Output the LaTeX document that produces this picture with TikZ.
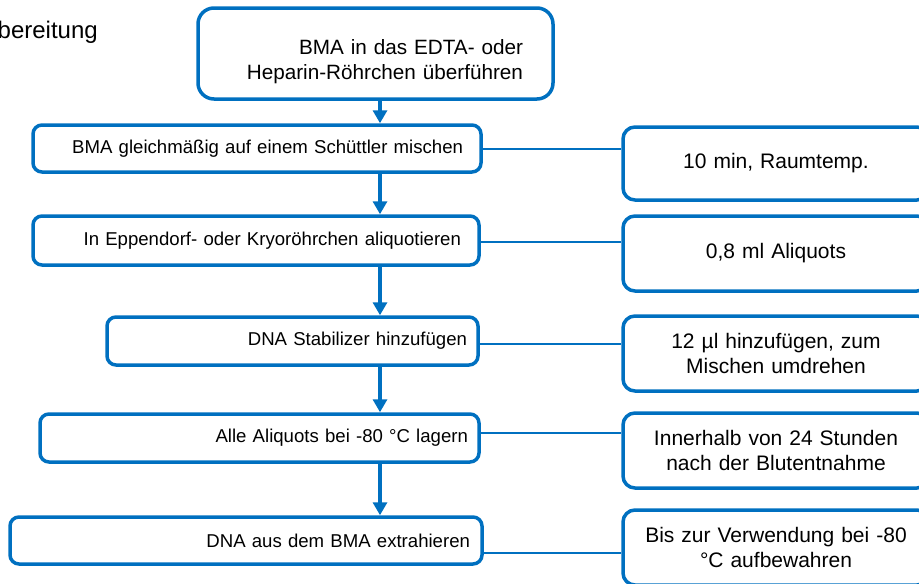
\documentclass[tikz,border=0pt]{standalone}
\usepackage{fontspec}
\setmainfont{Liberation Sans}
\usetikzlibrary{arrows.meta}
\definecolor{flowblue}{RGB}{0,112,192}
\begin{document}
\begin{tikzpicture}[x=1pt,y=-1pt,>={Triangle[width=14pt,length=13pt]},
    stepbox/.style={draw=flowblue,line width=3.5pt,rounded corners=9pt,align=right,inner ysep=0pt,font=\fontsize{18.6}{22}\selectfont},
    notebox/.style={draw=flowblue,line width=3.5pt,rounded corners=12pt,align=center,minimum width=306pt,minimum height=75pt,text width=280pt,font=\fontsize{21}{25}\selectfont},
    flow/.style={->,draw=flowblue,line width=4pt},
    link/.style={draw=flowblue,line width=2pt}]
\useasboundingbox (0,0) rectangle (919,584);
\clip (0,0) rectangle (919,584);
\node[anchor=base east,inner sep=0pt,font=\fontsize{24}{28}\selectfont] (title) at (98,38) {bereitung};
\coordinate (spine) at (380,0);
% Arbeitsschritte
\node[stepbox,rounded corners=16pt,text width=295pt,inner xsep=30pt,minimum height=91pt,font=\fontsize{20.7}{25}\selectfont] (transfer) at (375.5,53.5) {\rule{0pt}{32pt}BMA in das EDTA- oder\\Heparin-Röhrchen überführen};
\node[stepbox,text width=412pt,inner xsep=18pt,minimum height=47pt] (mix) at (257,148.5) {BMA gleichmäßig auf einem Schüttler mischen};
\node[stepbox,text width=410pt,inner xsep=18pt,minimum height=49pt] (aliquot) at (256,240.5) {In Eppendorf- oder Kryoröhrchen aliquotieren};
\node[stepbox,text width=349pt,inner xsep=11pt,minimum height=48pt] (stabil) at (292.5,341) {DNA Stabilizer hinzufügen};
\node[stepbox,text width=417pt,inner xsep=11pt,minimum height=48pt] (store) at (259.5,438) {Alle Aliquots bei -80 °C lagern};
\node[stepbox,text width=448pt,inner xsep=12pt,minimum height=47pt] (extract) at (246,540.5) {DNA aus dem BMA extrahieren};
% Hinweise
\node[notebox,minimum height=73pt] (time) at (776,163.5) {10 min, Raumtemp.};
\node[notebox] (volume) at (776,253.5) {0,8 ml Aliquots};
\node[notebox] (dose) at (776,353.5) {12 µl hinzufügen, zum\\Mischen umdrehen};
\node[notebox] (limit) at (776,450.5) {Innerhalb von 24 Stunden\\nach der Blutentnahme};
\node[notebox] (keep) at (776,547.5) {Bis zur Verwendung bei -80\\°C aufbewahren};
\foreach \a/\b in {transfer/mix,mix/aliquot,aliquot/stabil,stabil/store,store/extract}
    \draw[flow] (\a.south -| spine) -- (\b.north -| spine);
\foreach \a/\b/\s in {mix/time/0,aliquot/volume/-1.5,stabil/dose/-3,store/limit/5,extract/keep/-12.5}
    \draw[link] ([yshift=\s pt]\a.east) -- ([yshift=\s pt]\a.east -| \b.west);
\end{tikzpicture}
\end{document}
